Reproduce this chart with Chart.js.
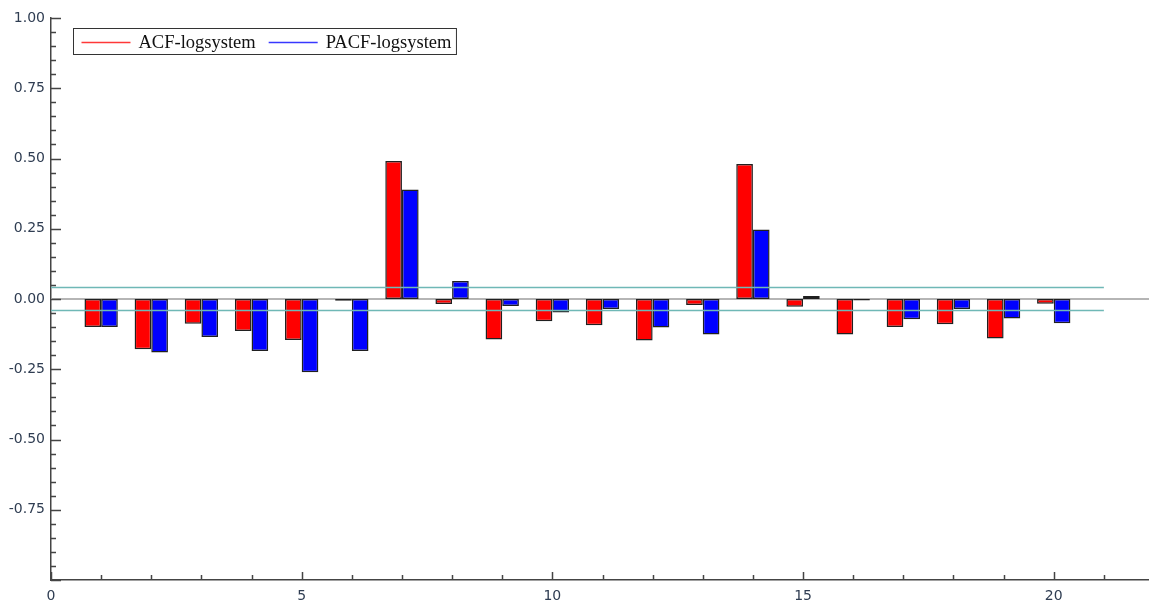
<!DOCTYPE html>
<html>
<head>
<meta charset="utf-8">
<script src="https://cdn.jsdelivr.net/npm/chart.js@4/dist/chart.umd.min.js"></script>
<style>
  html, body { margin: 0; padding: 0; background: #ffffff; }
  #wrap { position: relative; width: 1149px; height: 601px; }
</style>
</head>
<body>
<div id="wrap"><canvas id="acf"></canvas></div>
<script>
// Correlogram values, lags 1..20
const lags = [1, 2, 3, 4, 5, 6, 7, 8, 9, 10, 11, 12, 13, 14, 15, 16, 17, 18, 19, 20];
const acfValues = [-0.100, -0.179, -0.088, -0.114, -0.146, -0.006, 0.491, -0.018, -0.144, -0.079,
                   -0.093, -0.148, -0.021, 0.480, -0.028, -0.126, -0.100, -0.090, -0.141, -0.017];
const pacfValues = [-0.100, -0.190, -0.135, -0.185, -0.261, -0.185, 0.390, 0.064, -0.025, -0.048,
                    -0.036, -0.101, -0.126, 0.247, 0.011, -0.005, -0.072, -0.036, -0.069, -0.086];
// +/- 2 standard error band
const bandLags = [0, 21];
const bandUpper = [0.041, 0.041];
const bandLower = [-0.041, -0.041];
const zeroLags = [0, 21.9];
const zeroLine = [0, 0];
const seriesLabels = ['ACF-logsystem', 'PACF-logsystem'];
const seriesColors = ['#ff0000', '#0000ff'];
const legendLineColors = ['#ff3838', '#3838ff'];
const yTickLabels = ['-0.75', '-0.50', '-0.25', '0.00', '0.25', '0.50', '0.75', '1.00'];
const xTickLabels = ['0', '5', '10', '15', '20'];

const pts = (xs, ys) => xs.map((x, i) => ({ x: x, y: ys[i] }));

// Inward tick marks on both axes
const innerTicks = {
  id: 'innerTicks',
  afterDraw(chart) {
    const { ctx, chartArea, scales } = chart;
    ctx.save();
    ctx.strokeStyle = '#444';
    ctx.lineWidth = 1.5;
    ctx.beginPath();
    for (let i = -20; i <= 20; i++) {
      const y = Math.round(scales.y.getPixelForValue(i / 20)) + 0.5;
      const len = i % 5 === 0 ? 10 : 5;
      ctx.moveTo(chartArea.left, y);
      ctx.lineTo(chartArea.left + len, y);
    }
    for (let k = 0; k <= 21; k++) {
      const x = Math.round(scales.x.getPixelForValue(k)) + 0.5;
      const len = k % 5 === 0 ? 8 : 5;
      ctx.moveTo(x, chartArea.bottom);
      ctx.lineTo(x, chartArea.bottom - len);
    }
    ctx.stroke();
    ctx.restore();
  }
};

// Boxed legend in the upper-left of the plot
const boxLegend = {
  id: 'boxLegend',
  afterDraw(chart) {
    const { ctx, chartArea } = chart;
    ctx.save();
    ctx.font = '18.5px "Liberation Serif", "Times New Roman", serif';
    ctx.textBaseline = 'middle';
    const x0 = chartArea.left + 22.5, y0 = chartArea.top + 10.5, h = 26;
    let x = x0 + 8;
    const items = seriesLabels.map((label, i) => {
      const w = ctx.measureText(label).width;
      const it = { label, color: legendLineColors[i], x, w };
      x += 49 + 8 + w + 13;
      return it;
    });
    const boxW = x - 13 + 5 - x0;
    ctx.strokeStyle = '#333';
    ctx.lineWidth = 1;
    ctx.strokeRect(x0, y0, boxW, h);
    items.forEach(it => {
      const cy = Math.round(y0 + h / 2) + 0.5;
      ctx.strokeStyle = it.color;
      ctx.lineWidth = 1.3;
      ctx.beginPath();
      ctx.moveTo(it.x, cy);
      ctx.lineTo(it.x + 49, cy);
      ctx.stroke();
      ctx.fillStyle = '#111';
      ctx.fillText(it.label, it.x + 57, cy + 1);
    });
    ctx.restore();
  }
};

new Chart(document.getElementById('acf'), {
  type: 'bar',
  data: {
    datasets: [
      {
        type: 'line', label: 'zero', data: pts(zeroLags, zeroLine),
        borderColor: '#b5b5b5', borderWidth: 2, pointRadius: 0, order: 3
      },
      {
        type: 'bar', label: seriesLabels[0], data: pts(lags, acfValues),
        backgroundColor: seriesColors[0], borderColor: '#202020', borderWidth: 1.5,
        borderSkipped: false, order: 2, categoryPercentage: 0.665, barPercentage: 1.0
      },
      {
        type: 'bar', label: seriesLabels[1], data: pts(lags, pacfValues),
        backgroundColor: seriesColors[1], borderColor: '#202020', borderWidth: 1.5,
        borderSkipped: false, order: 2, categoryPercentage: 0.665, barPercentage: 1.0
      },
      {
        type: 'line', label: 'upper', data: pts(bandLags, bandUpper),
        borderColor: '#6fb8b6', borderWidth: 1.6, pointRadius: 0, order: 1
      },
      {
        type: 'line', label: 'lower', data: pts(bandLags, bandLower),
        borderColor: '#6fb8b6', borderWidth: 1.6, pointRadius: 0, order: 1
      }
    ]
  },
  options: {
    responsive: true,
    maintainAspectRatio: false,
    animation: false,
    layout: { padding: { top: 18, right: 0, left: 0, bottom: 0 } },
    plugins: { legend: { display: false }, tooltip: { enabled: false } },
    scales: {
      x: {
        type: 'linear', offset: false, min: 0, max: 21.9,
        grid: { display: false, drawTicks: false },
        border: { display: true, color: '#444', width: 1.5 },
        ticks: {
          stepSize: 5, includeBounds: false, autoSkip: false, maxRotation: 0, padding: 8,
          color: '#2f3d52',
          font: { family: '"DejaVu Sans", sans-serif', size: 14 },
          callback: v => { const s = String(v); return xTickLabels.includes(s) ? s : ''; }
        },
        afterFit: s => { s.height = 21; s.paddingRight = 0; }
      },
      y: {
        type: 'linear', min: -1, max: 1,
        grid: { display: false, drawTicks: false },
        border: { display: true, color: '#444', width: 1.5 },
        ticks: {
          stepSize: 0.25, autoSkip: false, padding: 6,
          color: '#2f3d52',
          font: { family: '"DejaVu Sans", sans-serif', size: 14 },
          callback: v => { const s = Number(v).toFixed(2); return yTickLabels.includes(s) ? s : ''; }
        },
        afterFit: s => { s.width = 51; }
      }
    }
  },
  plugins: [innerTicks, boxLegend]
});
</script>
</body>
</html>
